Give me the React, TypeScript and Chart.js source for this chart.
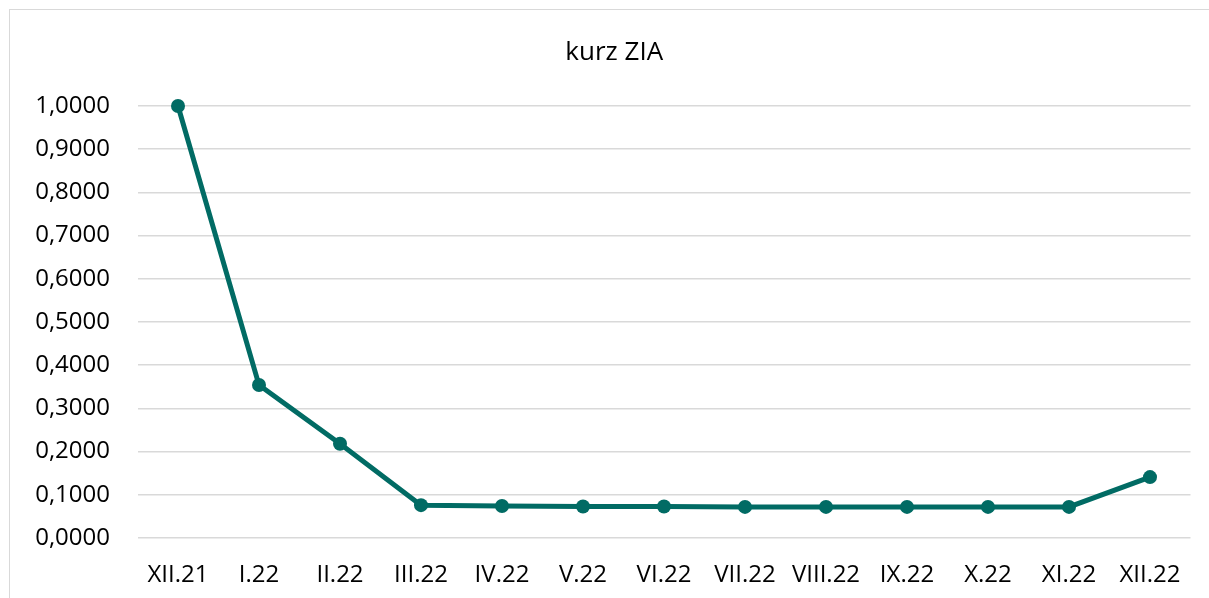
import React, { useEffect, useRef } from "react";
import { Chart, registerables } from "chart.js";

Chart.register(...registerables);

const categories = ["XII.21", "I.22", "II.22", "III.22", "IV.22", "V.22", "VI.22", "VII.22", "VIII.22", "IX.22", "X.22", "XI.22", "XII.22"];
const values = [1.0, 0.354, 0.218, 0.076, 0.074, 0.073, 0.073, 0.072, 0.072, 0.072, 0.072, 0.072, 0.141];
const titleText = "kurz ZIA";

const LINE = "#016b64";
const FONT = "'Open Sans', sans-serif";

const shiftTitle = {
  id: "shiftTitle",
  afterLayout(chart: any) {
    const t = chart.titleBlock;
    if (t) {
      t.left += 18;
    }
  },
};

export default function App() {
  const ref = useRef<HTMLCanvasElement | null>(null);
  useEffect(() => {
    if (!ref.current) return;
    const chart = new Chart(ref.current, {
      type: "line",
      data: {
        labels: categories,
        datasets: [
          {
            data: values,
            borderColor: LINE,
            backgroundColor: LINE,
            borderWidth: 5,
            pointRadius: 7,
            pointBorderWidth: 0,
            pointBackgroundColor: LINE,
            tension: 0,
            clip: false as any,
          },
        ],
      },
      plugins: [shiftTitle],
      options: {
        responsive: false,
        animation: false,
        layout: { padding: { left: 20, right: 18.5, top: 0, bottom: 9.6 } },
        plugins: {
          legend: { display: false },
          tooltip: { enabled: false },
          title: {
            display: true,
            text: titleText,
            color: "#000",
            font: { family: FONT, size: 26, weight: "normal" as any, lineHeight: 1.2 },
            padding: { top: 36.5, bottom: 38.3 },
          },
        },
        scales: {
          x: {
            offset: true,
            grid: { display: false, drawTicks: false },
            border: { display: false },
            ticks: {
              color: "#000",
              padding: 22.5,
              font: { family: FONT, size: 24, lineHeight: 1.2 },
              maxRotation: 0,
              autoSkip: false,
            },
            afterFit: (scale: any) => {
              scale.height = 50.4;
            },
          },
          y: {
            min: 0,
            max: 1,
            grid: { color: "#d9d9d9", lineWidth: 1.5, drawTicks: false },
            border: { display: false },
            ticks: {
              stepSize: 0.1,
              color: "#000",
              padding: 27.5,
              font: { family: FONT, size: 24, lineHeight: 1.2 },
              callback: (v: any) => Number(v).toFixed(4).replace(".", ","),
            },
            afterFit: (scale: any) => {
              scale.width = 117.5;
            },
          },
        },
      },
    });
    return () => chart.destroy();
  }, []);

  return (
    <div style={{ position: "fixed", left: 0, top: 0, width: 1209, height: 598, background: "#fff", overflow: "hidden" }}>
      <div
        style={{
          position: "absolute",
          left: 9,
          top: 9,
          width: 1300,
          height: 700,
          border: "1.5px solid #d9d9d9",
          boxSizing: "border-box",
        }}
      />
      <canvas ref={ref} width={1209} height={598} style={{ position: "absolute", left: 0, top: 0, display: "block" }} />
    </div>
  );
}
